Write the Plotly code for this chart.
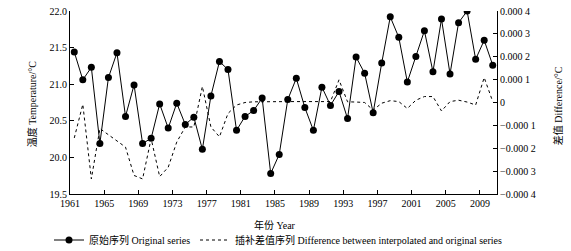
import plotly.graph_objects as go

years = list(range(1961, 2011))
temperature = [21.44, 21.06, 21.23, 20.19, 21.09, 21.43, 20.56, 20.99, 20.19, 20.26,
               20.73, 20.40, 20.74, 20.45, 20.55, 20.11, 20.84, 21.31, 21.20, 20.37,
               20.56, 20.64, 20.81, 19.78, 20.04, 20.79, 21.08, 20.68, 20.37, 20.96,
               20.71, 20.90, 20.53, 21.37, 21.15, 20.61, 21.29, 21.92, 21.64, 21.03,
               21.38, 21.73, 21.17, 21.89, 21.14, 21.84, 22.00, 21.34, 21.60, 21.26]
difference = [-0.000155, -0.000008, -0.000334, -0.000114, -0.000141, -0.000168, -0.000195, -0.000319, -0.000334, -0.000158,
              -0.000324, -0.000283, -0.000173, -0.000107, -0.000107, 0.000070, -0.000107, -0.000150, -0.000048, -0.000011,
              0.000000, 0.000003, 0.000004, 0.000004, 0.000004, 0.000004, 0.000004, 0.000004, 0.000004, 0.000004,
              0.000004, 0.000099, 0.000003, 0.000002, 0.000000, -0.000033, -0.000003, 0.000008, 0.000004, -0.000026,
              0.000010, 0.000026, 0.000026, -0.000037, 0.000004, 0.000010, 0.000002, -0.000011, 0.000109, 0.000004]

x_tick_labels = [1961, 1965, 1969, 1973, 1977, 1981, 1985, 1989, 1993, 1997, 2001, 2005, 2009]
y_left_ticks = [19.5, 20.0, 20.5, 21.0, 21.5, 22.0]
y_right_ticks = [-0.0004, -0.0003, -0.0002, -0.0001, 0, 0.0001, 0.0002, 0.0003, 0.0004]
y_right_text = ["\u22120.000 4", "\u22120.000 3", "\u22120.000 2", "\u22120.000 1", "0",
                "0.000 1", "0.000 2", "0.000 3", "0.000 4"]

FONT = "Liberation Serif, Times New Roman, Noto Sans CJK SC, serif"
W, H = 571, 251
L, R, T, B = 70, 74, 11, 57
PW, PH = W - L - R, H - T - B

fig = go.Figure()
fig.add_trace(go.Scatter(
    x=years, y=temperature, mode="lines+markers",
    name="原始序列 Original series", legend="legend",
    line=dict(color="black", width=1),
    marker=dict(color="black", size=7),
))
fig.add_trace(go.Scatter(
    x=years, y=difference, mode="lines", yaxis="y2", legend="legend2",
    name="插补差值序列 Difference between interpolated and original series",
    line=dict(color="black", width=1, dash="dot"),
))

leg_common = dict(orientation="h", yref="container", y=1 - 240 / H, yanchor="middle",
                  xref="container", xanchor="left",
                  font=dict(size=10), bgcolor="rgba(0,0,0,0)", itemwidth=30)

fig.update_layout(
    width=W, height=H,
    margin=dict(l=L, r=R, t=T, b=B, autoexpand=False),
    paper_bgcolor="white", plot_bgcolor="white",
    font=dict(family=FONT, size=10, color="black"),
    showlegend=True,
    legend=dict(x=49 / W, **leg_common),
    legend2=dict(x=195 / W, **leg_common),
    xaxis=dict(
        range=[1960.5, 2010.5],
        tickvals=[t - 0.5 for t in x_tick_labels],
        ticktext=[str(t) for t in x_tick_labels],
        ticks="inside", ticklen=4, tickcolor="black",
        showline=True, linecolor="black", linewidth=1,
        showgrid=False, zeroline=False, automargin=False,
        tickfont=dict(size=10),
    ),
    yaxis=dict(
        range=[19.5, 22.0],
        tickvals=y_left_ticks,
        ticktext=[f"{v:.1f}" for v in y_left_ticks],
        ticks="inside", ticklen=4, tickcolor="black",
        showline=True, linecolor="black", linewidth=1,
        showgrid=False, zeroline=False, automargin=False,
        tickfont=dict(size=10),
    ),
    yaxis2=dict(
        range=[-0.0004, 0.0004],
        overlaying="y", side="right",
        tickvals=y_right_ticks, ticktext=y_right_text,
        ticks="inside", ticklen=4, tickcolor="black",
        showline=True, linecolor="black", linewidth=1,
        showgrid=False, zeroline=False, automargin=False,
        tickfont=dict(size=10),
    ),
    annotations=[
        dict(text="温度 Temperature/°C", xref="paper", yref="paper",
             x=(32 - L) / PW, y=0.49, textangle=-90, showarrow=False,
             xanchor="center", yanchor="middle", font=dict(size=10)),
        dict(text="差值 Difference/°C", xref="paper", yref="paper",
             x=(558 - L) / PW, y=0.48, textangle=-90, showarrow=False,
             xanchor="center", yanchor="middle", font=dict(size=10)),
        dict(text="年份 Year", xref="paper", yref="paper",
             x=(275 - L) / PW, y=(T + PH - 225) / PH, showarrow=False,
             xanchor="center", yanchor="middle", font=dict(size=10)),
    ],
)

fig.write_html("out.html", config={"displayModeBar": False},
               post_script="document.body.style.margin='0px';")
